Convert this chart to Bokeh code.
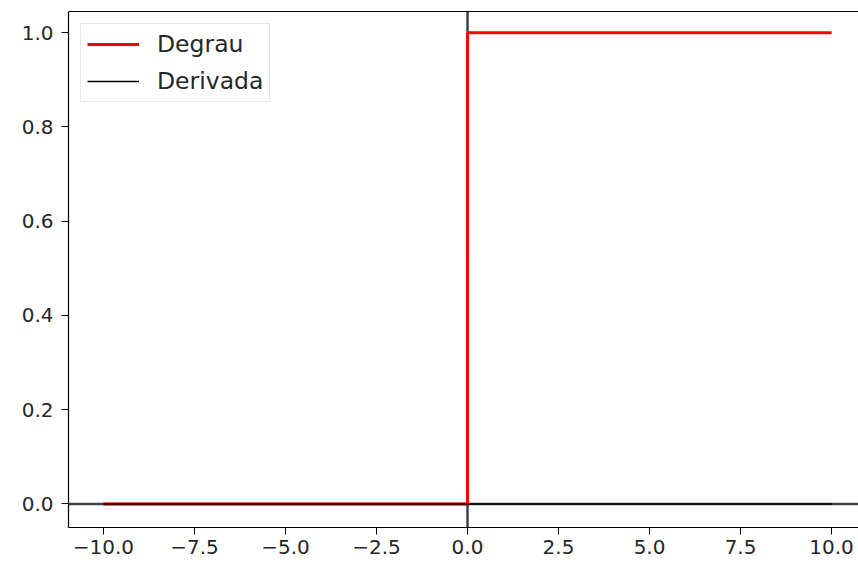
from bokeh.plotting import figure
from bokeh.models import Span, FixedTicker, CustomJSTickFormatter, LinearAxis, Legend, LegendItem, Range1d
from bokeh.embed import file_html
from bokeh.resources import INLINE

# data
x_vals = [-10.0, 0.0, 0.0, 10.0]
degrau = [0.0, 0.0, 1.0, 1.0]
derivada = [0.0, 0.0, 0.0, 0.0]
x_ticks = [-10.0, -7.5, -5.0, -2.5, 0.0, 2.5, 5.0, 7.5, 10.0]
y_ticks = [0.0, 0.2, 0.4, 0.6, 0.8, 1.0]

FONT = "DejaVu Sans"
FS = "20px"

p = figure(width=858, height=566, output_backend="svg", toolbar_location=None,
           x_range=Range1d(-10.96, 10.74), y_range=Range1d(-0.05, 1.045),
           min_border_left=68, min_border_right=0, min_border_top=11, min_border_bottom=39)
p.grid.visible = False
p.outline_line_color = None
p.background_fill_color = "white"
p.border_fill_color = "white"

vspan = Span(location=0, dimension="height", line_color="black", line_alpha=0.75,
             line_width=2.5, level="underlay")
hspan = Span(location=0, dimension="width", line_color="black", line_alpha=0.75,
             line_width=2.5, level="underlay")
p.add_layout(vspan)
p.add_layout(hspan)

r1 = p.line(x_vals, degrau, line_color="red", line_width=3)
r2 = p.line(x_vals, derivada, line_color="black", line_width=1.5)

fmt = CustomJSTickFormatter(code="return tick.toFixed(1).replace('-', '\u2212');")
for ax in (p.xaxis[0], p.yaxis[0]):
    ax.formatter = fmt
    ax.major_label_text_font = FONT
    ax.major_label_text_font_size = FS
    ax.major_label_text_color = "#262626"
    ax.axis_line_color = "black"
    ax.axis_line_width = 1.2
    ax.major_tick_line_color = "black"
    ax.major_tick_out = 7
    ax.major_tick_in = 0
    ax.minor_tick_out = 0
    ax.minor_tick_in = 0
p.xaxis[0].ticker = FixedTicker(ticks=x_ticks)
p.yaxis[0].ticker = FixedTicker(ticks=y_ticks)
p.xaxis[0].major_label_standoff = 5
p.yaxis[0].major_label_standoff = 8

top = LinearAxis(ticker=FixedTicker(ticks=[]), major_label_text_font_size="0px",
                 axis_line_color="black", axis_line_width=1.2)
p.add_layout(top, "above")

legend = Legend(items=[LegendItem(label="Degrau", renderers=[r1]),
                       LegendItem(label="Derivada", renderers=[r2])],
                location="top_left")
legend.label_text_font = FONT
legend.label_text_font_size = "23.5px"
legend.label_text_color = "#262626"
legend.glyph_width = 52
legend.glyph_height = 28
legend.label_height = 28
legend.label_standoff = 18
legend.spacing = 9
legend.padding = 6
legend.margin = 12
legend.border_line_color = "#d0d0d0"
legend.border_line_width = 1.2
legend.background_fill_alpha = 0.9
p.add_layout(legend)

open("out.html", "w").write(file_html(p, INLINE))
